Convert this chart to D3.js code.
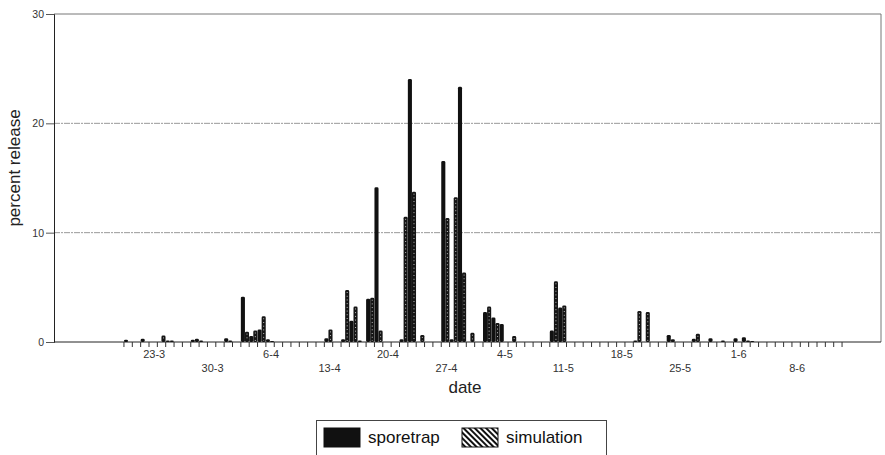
<!DOCTYPE html>
<html><head><meta charset="utf-8">
<script src="https://cdn.jsdelivr.net/npm/d3@7/dist/d3.min.js"></script>
<style>body{margin:0;background:#fff;} svg{display:block;font-family:"Liberation Sans",Arial,Helvetica,sans-serif;}</style>
</head><body><svg id="c" width="885" height="455"></svg>
<script>
// categories: one per day, 20-3 .. 13-6
const dates = [
 "20-3","21-3","22-3","23-3","24-3","25-3","26-3","27-3","28-3","29-3","30-3","31-3",
 "1-4","2-4","3-4","4-4","5-4","6-4","7-4","8-4","9-4","10-4","11-4","12-4","13-4","14-4","15-4",
 "16-4","17-4","18-4","19-4","20-4","21-4","22-4","23-4","24-4","25-4","26-4","27-4","28-4","29-4","30-4",
 "1-5","2-5","3-5","4-5","5-5","6-5","7-5","8-5","9-5","10-5","11-5","12-5","13-5","14-5","15-5",
 "16-5","17-5","18-5","19-5","20-5","21-5","22-5","23-5","24-5","25-5","26-5","27-5","28-5","29-5",
 "30-5","31-5","1-6","2-6","3-6","4-6","5-6","6-6","7-6","8-6","9-6","10-6","11-6","12-6","13-6"
];
const sporetrap = [
 0.15,0,0.25,0,0,0.1,0,0,0.15,0.1,
 0,0,0.3,0,4.1,0.5,1.1,0.2,0,0,
 0,0,0,0,0.3,0,0.2,1.9,0.1,3.9,
 14.1,0,0,0.2,24.0,0,0,0,16.5,0.2,
 23.3,0,0,2.7,2.2,1.6,0,0,0,0,
 0,1.0,3.1,0,0,0,0,0,0,0,
 0,0.1,0,0,0,0.6,0,0,0.25,0,
 0.3,0,0,0.3,0.4,0.05,0,0,0,0,
 0,0,0,0,0,0
];
const simulation = [
 0,0,0,0,0.55,0.1,0,0,0.25,0,
 0,0,0.1,0,0.9,1.0,2.3,0.05,0,0,
 0,0,0,0,1.1,0,4.7,3.2,0,4.0,
 1.0,0,0,11.4,13.7,0.6,0,0,11.3,13.2,
 6.3,0.8,0,3.2,1.7,0,0.5,0,0,0,
 0,5.5,3.3,0,0,0,0,0,0,0,
 0,2.8,2.7,0,0,0.2,0,0,0.7,0,
 0,0.1,0,0,0.1,0,0,0,0,0,
 0,0,0,0,0,0
];
const tickLabels = ["23-3","30-3","6-4","13-4","20-4","27-4","4-5","11-5","18-5","25-5","1-6","8-6"];
const yTicks = [0,10,20,30];
const seriesNames = ["sporetrap","simulation"];

const svg = d3.select("#c");
const frame = {left:54, right:881, top:14, bottom:342};
const x = d3.scaleBand().domain(dates).range([123.95, 842.05]).paddingInner(0).paddingOuter(0);
const xs = d3.scaleBand().domain(seriesNames).range([0, x.bandwidth()*0.98]).padding(0.0);
const y = d3.scaleLinear().domain([0,30]).range([frame.bottom, frame.top]);

// hatch pattern for legend
const defs = svg.append("defs");
const pat = defs.append("pattern").attr("id","hatch").attr("patternUnits","userSpaceOnUse")
  .attr("width",4).attr("height",4).attr("patternTransform","rotate(-45)");
pat.append("rect").attr("width",4).attr("height",4).attr("fill","#fff");
pat.append("rect").attr("width",2).attr("height",4).attr("fill","#111");

// gridlines
svg.append("g").selectAll("line").data(yTicks.filter(d=>d>0)).join("line")
  .attr("x1",frame.left).attr("x2",frame.right)
  .attr("y1",d=>y(d)).attr("y2",d=>y(d))
  .attr("stroke",d=>d===30?"#777":"#999").attr("stroke-width",1)
  .attr("stroke-dasharray",d=>d===30?null:"6,1,2,1");
// right border
svg.append("line").attr("x1",frame.right).attr("x2",frame.right).attr("y1",y(30)).attr("y2",y(0))
  .attr("stroke","#777");

// y axis
const yAxis = d3.axisLeft(y).tickValues(yTicks).tickSize(8).tickPadding(2);
const gy = svg.append("g").attr("transform",`translate(${frame.left},0)`).call(yAxis);
gy.select(".domain").attr("stroke","#222");
gy.selectAll(".tick line").attr("stroke","#555");
gy.selectAll("text").attr("font-size",10.5).attr("fill","#333").attr("font-family","Liberation Sans, Arial, sans-serif");

// baseline
svg.append("line").attr("x1",frame.left).attr("x2",frame.right).attr("y1",y(0)).attr("y2",y(0))
  .attr("stroke","#222").attr("stroke-width",1);

// category tick marks (at boundaries)
const bounds = dates.map(d=>x(d)).concat([x(dates[dates.length-1])+x.bandwidth()]);
svg.append("g").selectAll("line").data(bounds).join("line")
  .attr("x1",d=>d).attr("x2",d=>d).attr("y1",y(0)).attr("y2",y(0)+5)
  .attr("stroke","#333").attr("stroke-width",1);

// x labels, staggered
svg.append("g").selectAll("text").data(tickLabels).join("text")
  .attr("x",d=>x(d)+x.bandwidth()/2+1)
  .attr("y",(d,i)=>i%2===0?358:372)
  .attr("text-anchor","middle").attr("font-size",11).attr("fill","#333")
  .text(d=>d);

// bars
const data = dates.map((d,i)=>({date:d, sporetrap:sporetrap[i], simulation:simulation[i]}));
const gb = svg.append("g");
gb.selectAll("rect.sp").data(data.filter(d=>d.sporetrap>0)).join("rect").attr("class","sp")
  .attr("x",d=>x(d.date)+xs("sporetrap"))
  .attr("width",xs.bandwidth())
  .attr("y",d=>y(d.sporetrap)-0.5)
  .attr("height",d=>y(0)-y(d.sporetrap)+0.5)
  .attr("rx",1.4).attr("fill","#111");
gb.selectAll("rect.sim").data(data.filter(d=>d.simulation>0)).join("rect").attr("class","sim")
  .attr("x",d=>x(d.date)+xs("simulation"))
  .attr("width",xs.bandwidth())
  .attr("y",d=>y(d.simulation)-0.5)
  .attr("height",d=>y(0)-y(d.simulation)+0.5)
  .attr("rx",1.4).attr("fill","#151515");
gb.selectAll("line.simdots").data(data.filter(d=>y(0)-y(d.simulation)>3)).join("line").attr("class","simdots")
  .attr("x1",d=>x(d.date)+xs("simulation")+xs.bandwidth()/2)
  .attr("x2",d=>x(d.date)+xs("simulation")+xs.bandwidth()/2)
  .attr("y1",d=>y(d.simulation)+1.5)
  .attr("y2",y(0)-1)
  .attr("stroke","#fff").attr("stroke-width",0.8).attr("stroke-dasharray","0.9,2.8");

// axis titles
svg.append("text").attr("transform","translate(20,168) rotate(-90)")
  .attr("text-anchor","middle").attr("font-size",17).attr("fill","#222").text("percent release");
svg.append("text").attr("x",465).attr("y",393).attr("text-anchor","middle")
  .attr("font-size",17).attr("fill","#222").text("date");

// legend
const lg = svg.append("g");
lg.append("rect").attr("x",316.5).attr("y",420.5).attr("width",290).attr("height",45)
  .attr("fill","#fff").attr("stroke","#444");
const items = [{name:seriesNames[0], fill:"#111", sx:324, tx:368},{name:seriesNames[1], fill:"url(#hatch)", sx:462, tx:506}];
items.forEach(it=>{
  lg.append("rect").attr("x",it.sx).attr("y",428).attr("width",36).attr("height",19)
    .attr("fill",it.fill).attr("stroke","#111").attr("stroke-width",1);
  lg.append("text").attr("x",it.tx).attr("y",443).attr("font-size",17).attr("fill","#111").text(it.name);
});
</script></body></html>
